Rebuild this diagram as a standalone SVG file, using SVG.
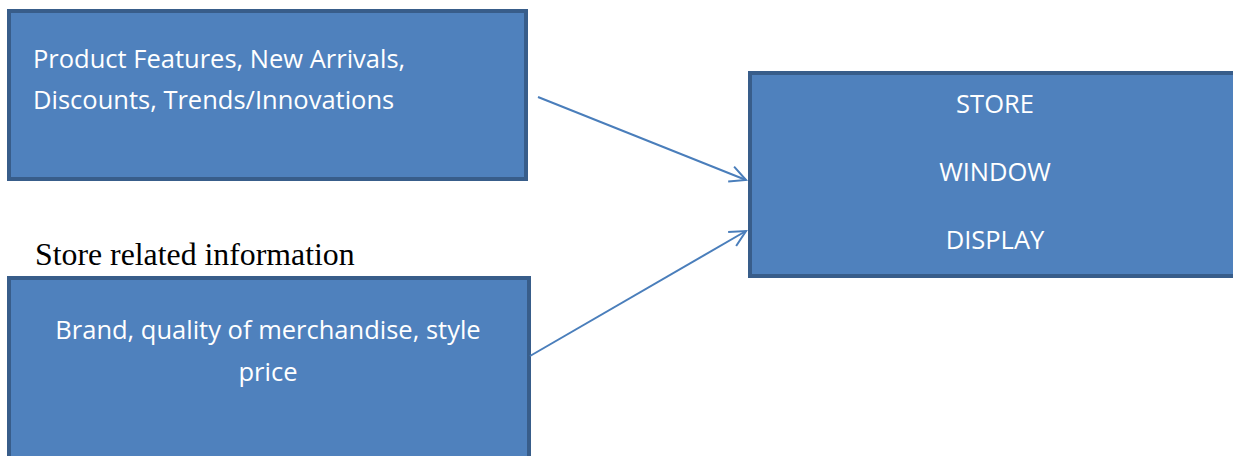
<svg xmlns="http://www.w3.org/2000/svg" width="1233" height="456" viewBox="0 0 1233 456">
<style>
.box{fill:#4F81BD;stroke:#385D8A;stroke-width:4}
.t{font-family:"Open Sans","Liberation Sans",sans-serif;font-size:25.5px;fill:#FFFFFF}
.c{text-anchor:middle}
.conn{stroke:#4A7EBB;stroke-width:2;fill:none}
.lbl{font-family:"Liberation Serif",serif;font-size:31.8px;fill:#000}
</style>
<defs>
<marker id="ah" viewBox="0 0 20 20" refX="18" refY="10" markerWidth="20" markerHeight="20" markerUnits="userSpaceOnUse" orient="auto">
<path d="M2,2 L18,10 L2,18" fill="none" stroke="#4A7EBB" stroke-width="2"/>
</marker>
</defs>
<rect width="1233" height="456" fill="#FFFFFF"/>
<g id="node-product">
<rect class="box" x="9" y="11" width="517" height="168"/>
<text class="t" x="33" y="68">Product Features, New Arrivals,</text>
<text class="t" x="33" y="109">Discounts, Trends/Innovations</text>
</g>
<g id="node-brand">
<rect class="box" x="9" y="278" width="520" height="190"/>
<text class="t c" x="268" y="339">Brand, quality of merchandise, style</text>
<text class="t c" x="268" y="381">price</text>
</g>
<g id="node-store">
<rect class="box" x="750" y="73" width="500" height="203"/>
<text class="t c" x="995" y="113">STORE</text>
<text class="t c" x="995" y="181">WINDOW</text>
<text class="t c" x="995" y="249">DISPLAY</text>
</g>
<text class="lbl" x="35" y="265">Store related information</text>
<g id="connectors">
<line class="conn" x1="538" y1="97" x2="746" y2="180" marker-end="url(#ah)"/>
<line class="conn" x1="530" y1="356" x2="746" y2="231" marker-end="url(#ah)"/>
</g>
</svg>
